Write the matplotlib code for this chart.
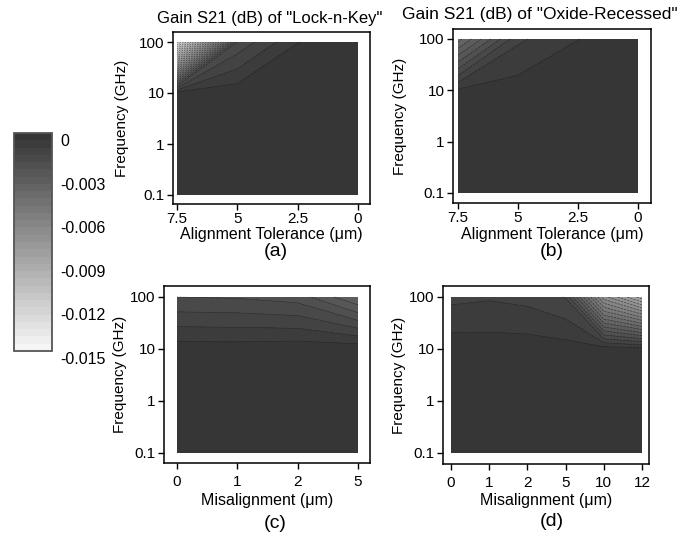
import numpy as np
import matplotlib
matplotlib.use("Agg")
import matplotlib.pyplot as plt
import matplotlib.transforms as mtransforms
from matplotlib.colors import LinearSegmentedColormap

plt.rcParams.update({
    "font.family": ["Liberation Sans", "DejaVu Sans"],
    "font.size": 10,
    "axes.linewidth": 1.1,
})

# Frequency sweep (GHz), shared by all four panels
freq = [0.1, 1, 10, 100]
freq_labels = ["0.1", "1", "10", "100"]

# (a) Lock-n-Key, alignment tolerance (um)
tol_a = ["7.5", "5", "2.5", "0"]
s21_a = [
    [0.0, 0.0, 0.0, 0.0],
    [0.0, 0.0, 0.0, 0.0],
    [-0.0002, -0.00019, -0.0001, 0.0],
    [-0.0138, -0.0019, -0.00051, -0.0002],
]

# (b) Oxide-Recessed, alignment tolerance (um)
tol_b = ["7.5", "5", "2.5", "0"]
s21_b = [
    [0.0, 0.0, 0.0, 0.0],
    [0.0, 0.0, 0.0, 0.0],
    [-0.00042, -0.00025, -0.0001, 0.0],
    [-0.0042, -0.0011, -0.00051, -0.0002],
]

# (c) Lock-n-Key, misalignment (um)
mis_c = ["0", "1", "2", "5"]
s21_c = [
    [0.0, 0.0, 0.0, 0.0],
    [0.0, 0.0, 0.0, 0.0],
    [-0.00025, -0.00025, -0.00019, -0.00017],
    [-0.0020, -0.00205, -0.00223, -0.0035],
]

# (d) Oxide-Recessed, misalignment (um)
mis_d = ["0", "1", "2", "5", "10", "12"]
s21_d = [
    [0.0, 0.0, 0.0, 0.0, 0.0, 0.0],
    [0.0, 0.0, 0.0, 0.0, 0.0, 0.0],
    [-0.00021, -0.00023, -0.00023, -0.00028, -0.00022, -0.00032],
    [-0.00114, -0.00106, -0.00117, -0.00153, -0.0068, -0.0088],
]

titles = ['Gain S21 (dB) of "Lock-n-Key"', 'Gain S21 (dB) of "Oxide-Recessed"']
cbar_ticks = [0, -0.003, -0.006, -0.009, -0.012, -0.015]

levels = np.linspace(-0.015, 0, 31)
cmap = LinearSegmentedColormap.from_list("grey", ["#f8f8f8", "#333333"])

W, H = 684, 535
fig = plt.figure(figsize=(W / 100, H / 100), dpi=100)


def add_panel(frame, data, xcats, z, xlabel, tag, tag_xy, xlab_y, ylab_x, xpad):
    # frame / data boxes given as pixel (left, top, right, bottom)
    fl, ft, fr, fb = frame
    dl, dt, dr, db = data
    ax = fig.add_axes([fl / W, 1 - fb / H, (fr - fl) / W, (fb - ft) / H])
    n = len(xcats) - 1
    xs = np.arange(len(xcats))
    ys = np.log10(freq)
    cf = ax.contourf(xs, ys, np.array(z), levels=levels, cmap=cmap,
                     vmin=-0.015, vmax=0)
    ax.contour(xs, ys, np.array(z), levels=levels[1:-1], colors="#1c1c1c",
               linewidths=0.45, alpha=0.7)
    pxu = (dr - dl) / n
    pyu = (db - dt) / 3.0
    ax.set_xlim(-(dl - fl) / pxu, n + (fr - dr) / pxu)
    ax.set_ylim(-1 - (fb - db) / pyu, 2 + (dt - ft) / pyu)
    ax.set_xticks(xs)
    ax.set_xticklabels(xcats)
    ax.set_yticks(ys)
    ax.set_yticklabels(freq_labels)
    ax.tick_params(direction="out", length=4.5, width=1, labelsize=11,
                   top=False, right=False)
    ax.tick_params(axis="x", pad=xpad)
    ax.tick_params(axis="y", pad=1.5)
    ax.set_xlabel(xlabel, fontsize=11.5, va="center")
    ax.xaxis.set_label_coords(0.5, -(xlab_y - fb) / (fb - ft))
    ax.set_ylabel("Frequency (GHz)", fontsize=11, va="center")
    ax.yaxis.set_label_coords(-(fl - ylab_x) / (fr - fl), 0.5)
    fig.text(tag_xy[0] / W, 1 - tag_xy[1] / H, tag, fontsize=14,
             ha="center", va="center")
    return ax, cf


ax_a, cf = add_panel((173, 32, 370, 204), (177, 42, 358, 195), tol_a, s21_a,
                     "Alignment Tolerance (\u03bcm)", "(a)", (276, 252), 234, 122, 1.0)
ax_b, _ = add_panel((453, 29, 651, 203), (458, 39, 638, 193), tol_b, s21_b,
                    "Alignment Tolerance (\u03bcm)", "(b)", (552, 252), 235, 400, 1.0)
ax_c, _ = add_panel((164, 286, 370, 463), (177, 297, 358, 453), mis_c, s21_c,
                    "Misalignment (\u03bcm)", "(c)", (275, 523), 500, 120, 4)
ax_d, _ = add_panel((443, 286, 649, 464), (451, 297, 642, 453), mis_d, s21_d,
                    "Misalignment (\u03bcm)", "(d)", (552, 522), 501, 399, 4)

fig.text(270 / W, 1 - 18 / H, titles[0], fontsize=12, ha="center", va="center")
fig.text(540 / W, 1 - 15 / H, titles[1], fontsize=12.5, ha="center", va="center")

# colour bar
cax = fig.add_axes([14 / W, 1 - 351 / H, 38 / W, 218 / H])
cbar = fig.colorbar(cf, cax=cax, ticks=cbar_ticks)
cbar.ax.set_yticklabels([f"{t:g}" if t == 0 else f"{t:.3f}" for t in cbar_ticks])
cbar.ax.tick_params(length=0, pad=6, labelsize=11.5)
cbar.outline.set_edgecolor("#555555")
cbar.outline.set_linewidth(1.3)
shift = mtransforms.ScaledTranslation(0, -7 / 100, fig.dpi_scale_trans)
for lab in cbar.ax.get_yticklabels():
    lab.set_transform(lab.get_transform() + shift)

fig.savefig("out.png", dpi=100)
